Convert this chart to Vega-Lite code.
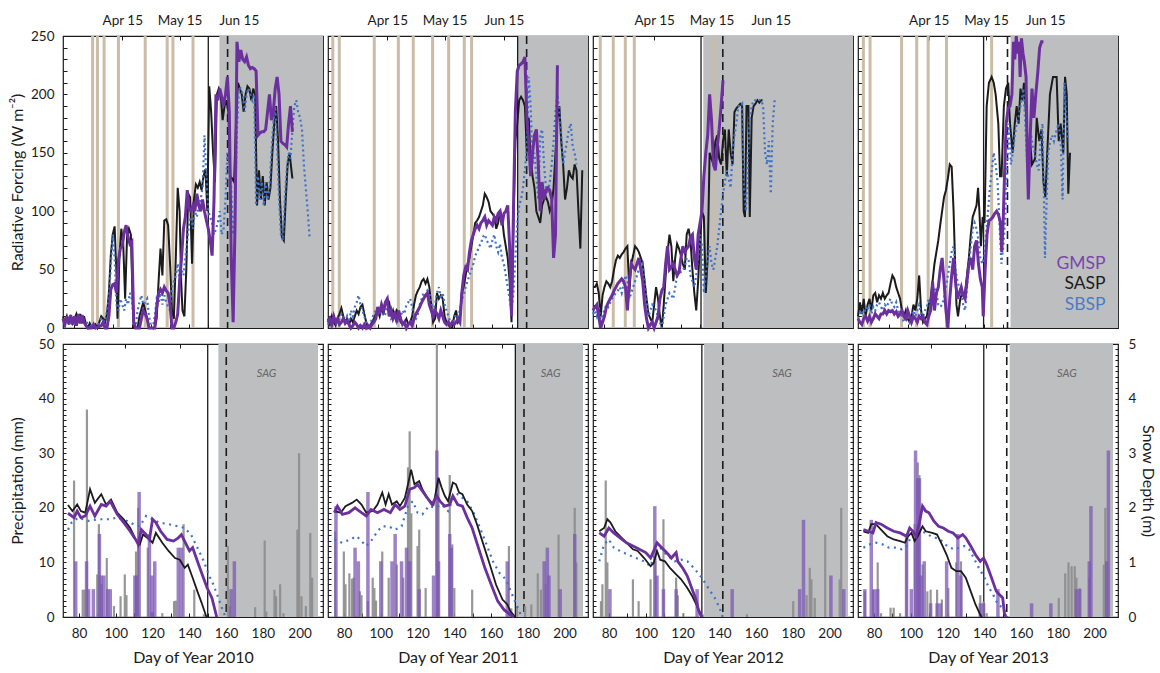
{
"$schema":"https://vega.github.io/schema/vega-lite/v6.json",
"background":"white",
"padding":{"left":8,"top":12,"right":4,"bottom":4},
"config":{
 "font":"Lato",
 "view":{"stroke":"#1b1b1b","strokeWidth":1.2},
 "axis":{"domain":false,"grid":false,"tickColor":"#1b1b1b","tickWidth":1,"tickSize":-4,"labelPadding":13,"labelFont":"Lato","labelFontSize":13.5,"labelColor":"#1b1b1b","titleFont":"Lato","titleFontSize":16,"titleFontWeight":"normal","titleColor":"#1b1b1b","minExtent":0,"labels":false,"labelOverlap":false,"labelFlush":false,"labelBound":false}
},
"datasets":{
 "sag2010":[{"sag_early":150,"sag_late":160.1,"sag_start":155.8,"sag_end":210}],
 "sag2011":[{"sag_early":173.2,"sag_late":177.9,"sag_start":173.4,"sag_end":210}],
 "sag2012":[{"sag_early":130.5,"sag_late":141.9,"sag_start":131.7,"sag_end":210}],
 "sag2013":[{"sag_early":139.7,"sag_late":152.2,"sag_start":153.8,"sag_end":210}],
 "dust2010":[{"doy":89.5},{"doy":92},{"doy":95.5},{"doy":103},{"doy":117},{"doy":128.5},{"doy":131.5},{"doy":142}],
 "dust2011":[{"doy":76.5},{"doy":79.9},{"doy":98.2},{"doy":110.8},{"doy":118.6},{"doy":128.7},{"doy":137.1},{"doy":145.3},{"doy":149.1}],
 "dust2012":[{"doy":77.8},{"doy":84.6},{"doy":90.9},{"doy":95.6},{"doy":137.4}],
 "dust2013":[{"doy":76.8},{"doy":80.3},{"doy":96.8},{"doy":104.7},{"doy":110.7},{"doy":120.3},{"doy":143.9}],
 "rf2010GMSP":[{"doy":74,"rf":8},{"doy":75,"rf":3},{"doy":76,"rf":10},{"doy":77,"rf":4},{"doy":78,"rf":11},{"doy":79,"rf":3},{"doy":80,"rf":10},{"doy":81,"rf":2},{"doy":82,"rf":12},{"doy":83,"rf":4},{"doy":84,"rf":11},{"doy":85,"rf":5},{"doy":86,"rf":2},{"doy":87,"rf":0},{"doy":89,"rf":0},{"doy":90,"rf":3},{"doy":91,"rf":0},{"doy":94,"rf":2},{"doy":95,"rf":5},{"doy":96,"rf":0},{"doy":97,"rf":0},{"doy":98,"rf":10},{"doy":99,"rf":33},{"doy":100,"rf":37},{"doy":101,"rf":38},{"doy":102,"rf":30},{"doy":103,"rf":58},{"doy":104,"rf":68},{"doy":105,"rf":70},{"doy":106,"rf":82},{"doy":107,"rf":88},{"doy":108,"rf":78},{"doy":109,"rf":72},{"doy":110,"rf":74},{"doy":111,"rf":5},{"doy":112,"rf":0},{"doy":114,"rf":0},{"doy":115,"rf":8},{"doy":116,"rf":15},{"doy":117,"rf":12},{"doy":118,"rf":8},{"doy":119,"rf":0},{"doy":122,"rf":0},{"doy":123,"rf":18},{"doy":124,"rf":30},{"doy":125,"rf":33},{"doy":126,"rf":30},{"doy":127,"rf":35},{"doy":128,"rf":32},{"doy":129,"rf":30},{"doy":130,"rf":20},{"doy":131,"rf":0},{"doy":132,"rf":0},{"doy":133,"rf":5},{"doy":134,"rf":12},{"doy":135,"rf":40},{"doy":136,"rf":60},{"doy":137,"rf":85},{"doy":138,"rf":95},{"doy":139,"rf":118},{"doy":140,"rf":102},{"doy":141,"rf":100},{"doy":142,"rf":105},{"doy":143,"rf":100},{"doy":144,"rf":115},{"doy":145,"rf":105},{"doy":146,"rf":100},{"doy":147,"rf":110},{"doy":148,"rf":100},{"doy":149,"rf":92},{"doy":150,"rf":85},{"doy":151,"rf":75},{"doy":152,"rf":62},{"doy":153,"rf":110},{"doy":154,"rf":200},{"doy":155,"rf":195},{"doy":156,"rf":205},{"doy":157,"rf":198},{"doy":158,"rf":190},{"doy":159,"rf":200},{"doy":160,"rf":215},{"doy":161,"rf":185},{"doy":162,"rf":60},{"doy":163,"rf":5},{"doy":164,"rf":90},{"doy":165,"rf":245},{"doy":166,"rf":228},{"doy":167,"rf":238},{"doy":168,"rf":230},{"doy":169,"rf":228},{"doy":170,"rf":232},{"doy":171,"rf":225},{"doy":172,"rf":222},{"doy":173,"rf":223},{"doy":174,"rf":222},{"doy":175,"rf":220},{"doy":176,"rf":165},{"doy":177,"rf":167},{"doy":178,"rf":168},{"doy":179,"rf":168},{"doy":180,"rf":170},{"doy":181,"rf":185},{"doy":182,"rf":200},{"doy":183,"rf":178},{"doy":184,"rf":185},{"doy":185,"rf":205},{"doy":186,"rf":215},{"doy":187,"rf":200},{"doy":188,"rf":160},{"doy":189,"rf":158},{"doy":190,"rf":157},{"doy":191,"rf":155},{"doy":192,"rf":175},{"doy":193,"rf":190},{"doy":194,"rf":168}],
 "rf2010SASP":[{"doy":74,"rf":10},{"doy":75,"rf":5},{"doy":76,"rf":10},{"doy":77,"rf":3},{"doy":78,"rf":9},{"doy":79,"rf":4},{"doy":80,"rf":8},{"doy":81,"rf":12},{"doy":82,"rf":5},{"doy":83,"rf":12},{"doy":84,"rf":4},{"doy":85,"rf":10},{"doy":86,"rf":3},{"doy":87,"rf":0},{"doy":88,"rf":4},{"doy":89,"rf":0},{"doy":90,"rf":0},{"doy":91,"rf":3},{"doy":92,"rf":0},{"doy":93,"rf":5},{"doy":94,"rf":10},{"doy":95,"rf":8},{"doy":96,"rf":5},{"doy":97,"rf":12},{"doy":98,"rf":30},{"doy":99,"rf":62},{"doy":100,"rf":80},{"doy":101,"rf":87},{"doy":102,"rf":45},{"doy":102.5,"rf":8},{"doy":103.5,"rf":60},{"doy":104.5,"rf":85},{"doy":105.5,"rf":72},{"doy":106.5,"rf":25},{"doy":107.5,"rf":78},{"doy":108.5,"rf":85},{"doy":109.5,"rf":80},{"doy":110.5,"rf":20},{"doy":111,"rf":0},{"doy":113,"rf":0},{"doy":114,"rf":10},{"doy":115,"rf":16},{"doy":116,"rf":22},{"doy":117,"rf":15},{"doy":118,"rf":8},{"doy":119,"rf":0},{"doy":122,"rf":0},{"doy":123,"rf":8},{"doy":124,"rf":40},{"doy":125,"rf":68},{"doy":126,"rf":45},{"doy":127,"rf":92},{"doy":128,"rf":93},{"doy":129,"rf":88},{"doy":130,"rf":55},{"doy":131,"rf":15},{"doy":132,"rf":8},{"doy":133,"rf":60},{"doy":134,"rf":120},{"doy":135,"rf":100},{"doy":135.8,"rf":40},{"doy":136.5,"rf":15},{"doy":137.5,"rf":10},{"doy":138.5,"rf":50},{"doy":139.5,"rf":115},{"doy":140.5,"rf":112},{"doy":141.5,"rf":55},{"doy":142.5,"rf":110},{"doy":143.5,"rf":123},{"doy":144.5,"rf":120},{"doy":145.5,"rf":125},{"doy":146.5,"rf":118},{"doy":147.5,"rf":130},{"doy":148.5,"rf":136},{"doy":149.5,"rf":100},{"doy":150.5,"rf":207},{"doy":151.5,"rf":185},{"doy":152.5,"rf":150},{"doy":153.5,"rf":125},{"doy":154.5,"rf":200},{"doy":155.5,"rf":205},{"doy":156.5,"rf":200},{"doy":157.5,"rf":178},{"doy":158.5,"rf":190},{"doy":159.5,"rf":195},{"doy":160.5,"rf":185},{"doy":161.5,"rf":130},{"doy":162.5,"rf":128},{"doy":163.5,"rf":125},{"doy":164.5,"rf":175},{"doy":165.5,"rf":210},{"doy":166.5,"rf":205},{"doy":167.5,"rf":200},{"doy":168.5,"rf":185},{"doy":169.5,"rf":200},{"doy":170.5,"rf":207},{"doy":171.5,"rf":205},{"doy":172.5,"rf":195},{"doy":173.5,"rf":205},{"doy":174.5,"rf":200},{"doy":175.5,"rf":105},{"doy":176.5,"rf":135},{"doy":177.5,"rf":110},{"doy":178.5,"rf":130},{"doy":179.5,"rf":105},{"doy":180.5,"rf":125},{"doy":181.5,"rf":110},{"doy":182.5,"rf":120},{"doy":183.5,"rf":150},{"doy":184.5,"rf":175},{"doy":185.5,"rf":190},{"doy":186.5,"rf":160},{"doy":187.5,"rf":110},{"doy":188.5,"rf":78},{"doy":189.5,"rf":75},{"doy":190.5,"rf":110},{"doy":191.5,"rf":140},{"doy":192.5,"rf":150},{"doy":193.5,"rf":135},{"doy":194,"rf":128}],
 "rf2010SBSP":[{"doy":74,"rf":5},{"doy":76,"rf":8},{"doy":78,"rf":3},{"doy":80,"rf":8},{"doy":82,"rf":5},{"doy":84,"rf":8},{"doy":86,"rf":5},{"doy":88,"rf":3},{"doy":90,"rf":0},{"doy":92,"rf":2},{"doy":94,"rf":8},{"doy":96,"rf":5},{"doy":98,"rf":25},{"doy":100,"rf":80},{"doy":101,"rf":60},{"doy":102,"rf":20},{"doy":103,"rf":15},{"doy":104,"rf":25},{"doy":105,"rf":20},{"doy":106,"rf":15},{"doy":107,"rf":25},{"doy":108,"rf":20},{"doy":109,"rf":30},{"doy":110,"rf":25},{"doy":111,"rf":5},{"doy":112,"rf":0},{"doy":113,"rf":15},{"doy":114,"rf":22},{"doy":115,"rf":28},{"doy":116,"rf":20},{"doy":117,"rf":22},{"doy":118,"rf":25},{"doy":119,"rf":10},{"doy":120,"rf":2},{"doy":121,"rf":0},{"doy":122,"rf":10},{"doy":123,"rf":25},{"doy":124,"rf":22},{"doy":125,"rf":30},{"doy":126,"rf":20},{"doy":127,"rf":28},{"doy":128,"rf":22},{"doy":129,"rf":18},{"doy":130,"rf":15},{"doy":131,"rf":35},{"doy":132,"rf":40},{"doy":133,"rf":45},{"doy":134,"rf":55},{"doy":135,"rf":40},{"doy":136,"rf":50},{"doy":137,"rf":45},{"doy":138,"rf":60},{"doy":139,"rf":75},{"doy":140,"rf":90},{"doy":141,"rf":95},{"doy":142,"rf":85},{"doy":143,"rf":100},{"doy":144,"rf":95},{"doy":145,"rf":105},{"doy":146,"rf":110},{"doy":147,"rf":120},{"doy":148,"rf":165},{"doy":149,"rf":130},{"doy":150,"rf":100},{"doy":151,"rf":95},{"doy":152,"rf":90},{"doy":153,"rf":80},{"doy":154,"rf":85},{"doy":155,"rf":90},{"doy":156,"rf":100},{"doy":157,"rf":80},{"doy":158,"rf":85},{"doy":159,"rf":110},{"doy":160,"rf":150},{"doy":161,"rf":140},{"doy":162,"rf":120},{"doy":163,"rf":80},{"doy":164,"rf":100},{"doy":165,"rf":170},{"doy":166,"rf":205},{"doy":167,"rf":205},{"doy":168,"rf":200},{"doy":169,"rf":185},{"doy":170,"rf":200},{"doy":171,"rf":205},{"doy":172,"rf":200},{"doy":173,"rf":195},{"doy":174,"rf":200},{"doy":175,"rf":105},{"doy":176,"rf":130},{"doy":177,"rf":110},{"doy":178,"rf":125},{"doy":179,"rf":105},{"doy":180,"rf":125},{"doy":181,"rf":110},{"doy":182,"rf":120},{"doy":183,"rf":150},{"doy":184,"rf":175},{"doy":185,"rf":190},{"doy":186,"rf":155},{"doy":187,"rf":110},{"doy":188,"rf":80},{"doy":189,"rf":75},{"doy":190,"rf":110},{"doy":191,"rf":135},{"doy":192,"rf":150},{"doy":193,"rf":145},{"doy":194,"rf":170},{"doy":195,"rf":190},{"doy":196,"rf":195},{"doy":197,"rf":185},{"doy":198,"rf":180},{"doy":199,"rf":170},{"doy":200,"rf":140},{"doy":201,"rf":120},{"doy":202,"rf":100},{"doy":203,"rf":77}],
 "rf2011GMSP":[{"doy":74,"rf":5},{"doy":75,"rf":8},{"doy":76,"rf":3},{"doy":77,"rf":10},{"doy":78,"rf":5},{"doy":79,"rf":8},{"doy":80,"rf":3},{"doy":81,"rf":5},{"doy":82,"rf":8},{"doy":83,"rf":4},{"doy":84,"rf":6},{"doy":85,"rf":3},{"doy":86,"rf":0},{"doy":87,"rf":2},{"doy":88,"rf":5},{"doy":89,"rf":3},{"doy":90,"rf":0},{"doy":91,"rf":2},{"doy":92,"rf":0},{"doy":93,"rf":3},{"doy":94,"rf":0},{"doy":95,"rf":2},{"doy":96,"rf":0},{"doy":97,"rf":3},{"doy":98,"rf":5},{"doy":99,"rf":8},{"doy":100,"rf":18},{"doy":101,"rf":12},{"doy":102,"rf":20},{"doy":103,"rf":15},{"doy":104,"rf":22},{"doy":105,"rf":25},{"doy":106,"rf":10},{"doy":107,"rf":15},{"doy":108,"rf":8},{"doy":109,"rf":12},{"doy":110,"rf":5},{"doy":111,"rf":15},{"doy":112,"rf":8},{"doy":113,"rf":3},{"doy":114,"rf":5},{"doy":115,"rf":0},{"doy":116,"rf":3},{"doy":117,"rf":5},{"doy":118,"rf":2},{"doy":119,"rf":8},{"doy":120,"rf":12},{"doy":121,"rf":15},{"doy":122,"rf":18},{"doy":123,"rf":22},{"doy":124,"rf":25},{"doy":125,"rf":28},{"doy":126,"rf":30},{"doy":127,"rf":20},{"doy":128,"rf":15},{"doy":129,"rf":10},{"doy":130,"rf":15},{"doy":131,"rf":12},{"doy":132,"rf":8},{"doy":133,"rf":15},{"doy":134,"rf":10},{"doy":135,"rf":5},{"doy":136,"rf":3},{"doy":137,"rf":5},{"doy":138,"rf":2},{"doy":139,"rf":5},{"doy":140,"rf":3},{"doy":141,"rf":5},{"doy":142,"rf":8},{"doy":143,"rf":5},{"doy":144,"rf":30},{"doy":145,"rf":45},{"doy":146,"rf":52},{"doy":147,"rf":50},{"doy":148,"rf":65},{"doy":149,"rf":75},{"doy":150,"rf":80},{"doy":151,"rf":85},{"doy":152,"rf":88},{"doy":153,"rf":85},{"doy":154,"rf":90},{"doy":155,"rf":92},{"doy":156,"rf":95},{"doy":157,"rf":88},{"doy":158,"rf":92},{"doy":159,"rf":90},{"doy":160,"rf":88},{"doy":161,"rf":95},{"doy":162,"rf":92},{"doy":163,"rf":98},{"doy":164,"rf":100},{"doy":165,"rf":88},{"doy":166,"rf":98},{"doy":167,"rf":100},{"doy":168,"rf":105},{"doy":169,"rf":70},{"doy":170,"rf":10},{"doy":171,"rf":100},{"doy":172,"rf":185},{"doy":173,"rf":220},{"doy":174,"rf":225},{"doy":175,"rf":226},{"doy":176,"rf":228},{"doy":177,"rf":232},{"doy":178,"rf":180},{"doy":179,"rf":160},{"doy":180,"rf":130},{"doy":181,"rf":150},{"doy":182,"rf":165},{"doy":183,"rf":170},{"doy":184,"rf":140},{"doy":185,"rf":100},{"doy":186,"rf":125},{"doy":187,"rf":110},{"doy":188,"rf":118},{"doy":189,"rf":120},{"doy":190,"rf":118},{"doy":191,"rf":110},{"doy":192,"rf":60},{"doy":193,"rf":80},{"doy":194,"rf":225}],
 "rf2011SASP":[{"doy":74,"rf":8},{"doy":75,"rf":3},{"doy":76,"rf":10},{"doy":77,"rf":5},{"doy":78,"rf":2},{"doy":79,"rf":8},{"doy":80,"rf":12},{"doy":81,"rf":17},{"doy":82,"rf":10},{"doy":83,"rf":5},{"doy":84,"rf":8},{"doy":85,"rf":3},{"doy":86,"rf":8},{"doy":87,"rf":5},{"doy":88,"rf":10},{"doy":89,"rf":15},{"doy":90,"rf":12},{"doy":91,"rf":18},{"doy":92,"rf":20},{"doy":93,"rf":12},{"doy":94,"rf":5},{"doy":95,"rf":0},{"doy":96,"rf":2},{"doy":97,"rf":5},{"doy":98,"rf":8},{"doy":99,"rf":12},{"doy":100,"rf":15},{"doy":101,"rf":10},{"doy":102,"rf":18},{"doy":103,"rf":12},{"doy":104,"rf":20},{"doy":105,"rf":25},{"doy":106,"rf":22},{"doy":107,"rf":10},{"doy":108,"rf":15},{"doy":109,"rf":8},{"doy":110,"rf":15},{"doy":111,"rf":12},{"doy":112,"rf":5},{"doy":113,"rf":3},{"doy":114,"rf":5},{"doy":115,"rf":8},{"doy":116,"rf":3},{"doy":117,"rf":5},{"doy":118,"rf":10},{"doy":119,"rf":20},{"doy":120,"rf":28},{"doy":121,"rf":32},{"doy":122,"rf":35},{"doy":123,"rf":40},{"doy":124,"rf":42},{"doy":125,"rf":38},{"doy":126,"rf":42},{"doy":127,"rf":35},{"doy":128,"rf":20},{"doy":129,"rf":5},{"doy":130,"rf":8},{"doy":131,"rf":30},{"doy":132,"rf":25},{"doy":133,"rf":28},{"doy":134,"rf":25},{"doy":135,"rf":10},{"doy":136,"rf":5},{"doy":137,"rf":3},{"doy":138,"rf":0},{"doy":139,"rf":0},{"doy":140,"rf":10},{"doy":141,"rf":15},{"doy":142,"rf":5},{"doy":143,"rf":8},{"doy":144,"rf":30},{"doy":145,"rf":35},{"doy":146,"rf":45},{"doy":147,"rf":55},{"doy":148,"rf":60},{"doy":149,"rf":70},{"doy":150,"rf":80},{"doy":151,"rf":90},{"doy":152,"rf":92},{"doy":153,"rf":95},{"doy":154,"rf":100},{"doy":155,"rf":105},{"doy":156,"rf":115},{"doy":157,"rf":112},{"doy":158,"rf":108},{"doy":159,"rf":100},{"doy":160,"rf":98},{"doy":161,"rf":95},{"doy":162,"rf":85},{"doy":163,"rf":90},{"doy":164,"rf":100},{"doy":165,"rf":95},{"doy":166,"rf":80},{"doy":167,"rf":70},{"doy":168,"rf":60},{"doy":169,"rf":40},{"doy":170,"rf":5},{"doy":171,"rf":90},{"doy":172,"rf":160},{"doy":173,"rf":175},{"doy":174,"rf":195},{"doy":175,"rf":198},{"doy":176,"rf":195},{"doy":177,"rf":190},{"doy":178,"rf":150},{"doy":179,"rf":180},{"doy":180,"rf":145},{"doy":181,"rf":130},{"doy":182,"rf":120},{"doy":183,"rf":100},{"doy":184,"rf":95},{"doy":185,"rf":90},{"doy":186,"rf":105},{"doy":187,"rf":110},{"doy":188,"rf":112},{"doy":189,"rf":108},{"doy":190,"rf":100},{"doy":191,"rf":105},{"doy":192,"rf":120},{"doy":193,"rf":150},{"doy":194,"rf":180},{"doy":195,"rf":190},{"doy":196,"rf":160},{"doy":197,"rf":140},{"doy":198,"rf":110},{"doy":199,"rf":120},{"doy":200,"rf":135},{"doy":201,"rf":130},{"doy":202,"rf":128},{"doy":203,"rf":140},{"doy":204,"rf":135},{"doy":205,"rf":100},{"doy":206,"rf":68},{"doy":207,"rf":135}],
 "rf2011SBSP":[{"doy":74,"rf":3},{"doy":75,"rf":8},{"doy":76,"rf":5},{"doy":77,"rf":10},{"doy":78,"rf":3},{"doy":79,"rf":5},{"doy":80,"rf":8},{"doy":81,"rf":12},{"doy":82,"rf":8},{"doy":83,"rf":5},{"doy":84,"rf":10},{"doy":85,"rf":5},{"doy":86,"rf":15},{"doy":87,"rf":10},{"doy":88,"rf":18},{"doy":89,"rf":22},{"doy":90,"rf":28},{"doy":91,"rf":20},{"doy":92,"rf":15},{"doy":93,"rf":10},{"doy":94,"rf":5},{"doy":95,"rf":2},{"doy":96,"rf":3},{"doy":97,"rf":8},{"doy":98,"rf":12},{"doy":99,"rf":15},{"doy":100,"rf":10},{"doy":101,"rf":18},{"doy":102,"rf":15},{"doy":103,"rf":10},{"doy":104,"rf":12},{"doy":105,"rf":20},{"doy":106,"rf":15},{"doy":107,"rf":8},{"doy":108,"rf":10},{"doy":109,"rf":15},{"doy":110,"rf":5},{"doy":111,"rf":8},{"doy":112,"rf":10},{"doy":113,"rf":15},{"doy":114,"rf":12},{"doy":115,"rf":20},{"doy":116,"rf":22},{"doy":117,"rf":25},{"doy":118,"rf":18},{"doy":119,"rf":10},{"doy":120,"rf":8},{"doy":121,"rf":12},{"doy":122,"rf":20},{"doy":123,"rf":25},{"doy":124,"rf":30},{"doy":125,"rf":28},{"doy":126,"rf":32},{"doy":127,"rf":30},{"doy":128,"rf":22},{"doy":129,"rf":15},{"doy":130,"rf":20},{"doy":131,"rf":30},{"doy":132,"rf":35},{"doy":133,"rf":25},{"doy":134,"rf":30},{"doy":135,"rf":20},{"doy":136,"rf":15},{"doy":137,"rf":10},{"doy":138,"rf":5},{"doy":139,"rf":3},{"doy":140,"rf":8},{"doy":141,"rf":12},{"doy":142,"rf":10},{"doy":143,"rf":15},{"doy":144,"rf":25},{"doy":145,"rf":28},{"doy":146,"rf":35},{"doy":147,"rf":40},{"doy":148,"rf":45},{"doy":149,"rf":50},{"doy":150,"rf":55},{"doy":151,"rf":62},{"doy":152,"rf":65},{"doy":153,"rf":70},{"doy":154,"rf":72},{"doy":155,"rf":78},{"doy":156,"rf":80},{"doy":157,"rf":75},{"doy":158,"rf":72},{"doy":159,"rf":68},{"doy":160,"rf":75},{"doy":161,"rf":80},{"doy":162,"rf":70},{"doy":163,"rf":65},{"doy":164,"rf":72},{"doy":165,"rf":60},{"doy":166,"rf":55},{"doy":167,"rf":45},{"doy":168,"rf":35},{"doy":169,"rf":25},{"doy":170,"rf":15},{"doy":171,"rf":30},{"doy":172,"rf":60},{"doy":173,"rf":90},{"doy":174,"rf":105},{"doy":175,"rf":110},{"doy":176,"rf":120},{"doy":177,"rf":135},{"doy":178,"rf":155},{"doy":179,"rf":215},{"doy":180,"rf":190},{"doy":181,"rf":140},{"doy":182,"rf":150},{"doy":183,"rf":130},{"doy":184,"rf":110},{"doy":185,"rf":165},{"doy":186,"rf":170},{"doy":187,"rf":140},{"doy":188,"rf":120},{"doy":189,"rf":115},{"doy":190,"rf":125},{"doy":191,"rf":140},{"doy":192,"rf":160},{"doy":193,"rf":185},{"doy":194,"rf":200},{"doy":195,"rf":185},{"doy":196,"rf":165},{"doy":197,"rf":140},{"doy":198,"rf":150},{"doy":199,"rf":160},{"doy":200,"rf":170},{"doy":201,"rf":175},{"doy":202,"rf":155},{"doy":203,"rf":150},{"doy":204,"rf":140}],
 "rf2012GMSP":[{"doy":74,"rf":15},{"doy":75,"rf":18},{"doy":76,"rf":20},{"doy":77,"rf":10},{"doy":78,"rf":0},{"doy":79,"rf":5},{"doy":80,"rf":10},{"doy":81,"rf":18},{"doy":82,"rf":22},{"doy":83,"rf":25},{"doy":84,"rf":28},{"doy":85,"rf":32},{"doy":86,"rf":35},{"doy":87,"rf":38},{"doy":88,"rf":40},{"doy":89,"rf":42},{"doy":90,"rf":40},{"doy":91,"rf":35},{"doy":92,"rf":15},{"doy":93,"rf":40},{"doy":94,"rf":55},{"doy":95,"rf":52},{"doy":96,"rf":50},{"doy":97,"rf":55},{"doy":98,"rf":60},{"doy":99,"rf":50},{"doy":100,"rf":40},{"doy":101,"rf":20},{"doy":102,"rf":8},{"doy":103,"rf":0},{"doy":104,"rf":3},{"doy":105,"rf":5},{"doy":106,"rf":0},{"doy":107,"rf":5},{"doy":108,"rf":10},{"doy":109,"rf":25},{"doy":110,"rf":32},{"doy":111,"rf":35},{"doy":112,"rf":55},{"doy":113,"rf":70},{"doy":114,"rf":50},{"doy":115,"rf":52},{"doy":116,"rf":55},{"doy":117,"rf":50},{"doy":118,"rf":45},{"doy":119,"rf":48},{"doy":120,"rf":60},{"doy":121,"rf":70},{"doy":122,"rf":65},{"doy":123,"rf":68},{"doy":124,"rf":70},{"doy":125,"rf":78},{"doy":126,"rf":80},{"doy":127,"rf":60},{"doy":128,"rf":50},{"doy":129,"rf":80},{"doy":130,"rf":90},{"doy":131,"rf":100},{"doy":132,"rf":130},{"doy":133,"rf":150},{"doy":134,"rf":165},{"doy":135,"rf":200},{"doy":136,"rf":178},{"doy":137,"rf":140},{"doy":138,"rf":135},{"doy":139,"rf":155},{"doy":140,"rf":170},{"doy":141,"rf":190},{"doy":142,"rf":212}],
 "rf2012SASP":[{"doy":74,"rf":35},{"doy":75,"rf":35},{"doy":76,"rf":38},{"doy":77,"rf":30},{"doy":78,"rf":10},{"doy":79,"rf":28},{"doy":80,"rf":35},{"doy":81,"rf":40},{"doy":82,"rf":38},{"doy":83,"rf":35},{"doy":84,"rf":40},{"doy":85,"rf":50},{"doy":86,"rf":58},{"doy":87,"rf":62},{"doy":88,"rf":60},{"doy":89,"rf":63},{"doy":90,"rf":65},{"doy":91,"rf":68},{"doy":92,"rf":70},{"doy":93,"rf":30},{"doy":94,"rf":55},{"doy":95,"rf":62},{"doy":96,"rf":70},{"doy":97,"rf":68},{"doy":98,"rf":65},{"doy":99,"rf":60},{"doy":100,"rf":55},{"doy":101,"rf":40},{"doy":102,"rf":25},{"doy":103,"rf":12},{"doy":104,"rf":8},{"doy":105,"rf":5},{"doy":106,"rf":20},{"doy":107,"rf":35},{"doy":108,"rf":25},{"doy":109,"rf":10},{"doy":110,"rf":0},{"doy":111,"rf":20},{"doy":112,"rf":45},{"doy":113,"rf":65},{"doy":114,"rf":80},{"doy":115,"rf":70},{"doy":116,"rf":40},{"doy":117,"rf":60},{"doy":118,"rf":72},{"doy":119,"rf":68},{"doy":120,"rf":62},{"doy":121,"rf":55},{"doy":122,"rf":50},{"doy":123,"rf":80},{"doy":124,"rf":85},{"doy":125,"rf":75},{"doy":126,"rf":50},{"doy":127,"rf":30},{"doy":128,"rf":15},{"doy":129,"rf":40},{"doy":130,"rf":75},{"doy":131,"rf":100},{"doy":132,"rf":95},{"doy":133,"rf":30},{"doy":134,"rf":60},{"doy":135,"rf":150},{"doy":136,"rf":145},{"doy":137,"rf":140},{"doy":138,"rf":160},{"doy":139,"rf":165},{"doy":140,"rf":145},{"doy":141,"rf":140},{"doy":142,"rf":160},{"doy":143,"rf":170},{"doy":144,"rf":130},{"doy":145,"rf":170},{"doy":146,"rf":150},{"doy":147,"rf":140},{"doy":148,"rf":185},{"doy":149,"rf":188},{"doy":150,"rf":190},{"doy":151,"rf":192},{"doy":152,"rf":190},{"doy":152.8,"rf":100},{"doy":153.5,"rf":95},{"doy":154.3,"rf":190},{"doy":155.3,"rf":190},{"doy":156,"rf":95},{"doy":157,"rf":180},{"doy":158,"rf":190},{"doy":159,"rf":192},{"doy":160,"rf":195},{"doy":161,"rf":193},{"doy":162,"rf":195},{"doy":162.7,"rf":195}],
 "rf2012SBSP":[{"doy":74,"rf":12},{"doy":75,"rf":15},{"doy":76,"rf":10},{"doy":77,"rf":18},{"doy":78,"rf":5},{"doy":79,"rf":12},{"doy":80,"rf":15},{"doy":81,"rf":20},{"doy":82,"rf":18},{"doy":83,"rf":22},{"doy":84,"rf":25},{"doy":85,"rf":28},{"doy":86,"rf":30},{"doy":87,"rf":32},{"doy":88,"rf":35},{"doy":89,"rf":30},{"doy":90,"rf":38},{"doy":91,"rf":45},{"doy":92,"rf":40},{"doy":93,"rf":25},{"doy":94,"rf":30},{"doy":95,"rf":35},{"doy":96,"rf":40},{"doy":97,"rf":45},{"doy":98,"rf":50},{"doy":99,"rf":52},{"doy":100,"rf":55},{"doy":101,"rf":40},{"doy":102,"rf":25},{"doy":103,"rf":10},{"doy":104,"rf":15},{"doy":105,"rf":20},{"doy":106,"rf":18},{"doy":107,"rf":15},{"doy":108,"rf":10},{"doy":109,"rf":5},{"doy":110,"rf":0},{"doy":111,"rf":10},{"doy":112,"rf":20},{"doy":113,"rf":25},{"doy":114,"rf":30},{"doy":115,"rf":28},{"doy":116,"rf":25},{"doy":117,"rf":35},{"doy":118,"rf":45},{"doy":119,"rf":50},{"doy":120,"rf":48},{"doy":121,"rf":50},{"doy":122,"rf":52},{"doy":123,"rf":60},{"doy":124,"rf":58},{"doy":125,"rf":45},{"doy":126,"rf":40},{"doy":127,"rf":35},{"doy":128,"rf":45},{"doy":129,"rf":60},{"doy":130,"rf":80},{"doy":131,"rf":70},{"doy":132,"rf":30},{"doy":133,"rf":45},{"doy":134,"rf":60},{"doy":135,"rf":70},{"doy":136,"rf":55},{"doy":137,"rf":50},{"doy":138,"rf":60},{"doy":139,"rf":70},{"doy":140,"rf":85},{"doy":141,"rf":100},{"doy":142,"rf":115},{"doy":143,"rf":125},{"doy":144,"rf":135},{"doy":145,"rf":128},{"doy":146,"rf":120},{"doy":147,"rf":150},{"doy":148,"rf":165},{"doy":149,"rf":175},{"doy":150,"rf":190},{"doy":151,"rf":190},{"doy":152,"rf":192},{"doy":153,"rf":120},{"doy":154,"rf":100},{"doy":155,"rf":140},{"doy":156,"rf":180},{"doy":157,"rf":190},{"doy":158,"rf":195},{"doy":159,"rf":195},{"doy":160,"rf":196},{"doy":161,"rf":195},{"doy":162,"rf":195},{"doy":163,"rf":190},{"doy":164,"rf":150},{"doy":165,"rf":140},{"doy":166,"rf":160},{"doy":167,"rf":115},{"doy":168,"rf":175},{"doy":169,"rf":195},{"doy":170,"rf":196}],
 "rf2013GMSP":[{"doy":74,"rf":8},{"doy":75,"rf":5},{"doy":76,"rf":3},{"doy":77,"rf":8},{"doy":78,"rf":10},{"doy":79,"rf":6},{"doy":80,"rf":10},{"doy":81,"rf":5},{"doy":82,"rf":8},{"doy":83,"rf":12},{"doy":84,"rf":10},{"doy":85,"rf":8},{"doy":86,"rf":12},{"doy":87,"rf":12},{"doy":88,"rf":15},{"doy":89,"rf":12},{"doy":90,"rf":15},{"doy":91,"rf":14},{"doy":92,"rf":15},{"doy":93,"rf":12},{"doy":94,"rf":14},{"doy":95,"rf":10},{"doy":96,"rf":12},{"doy":97,"rf":15},{"doy":98,"rf":10},{"doy":99,"rf":8},{"doy":100,"rf":15},{"doy":101,"rf":10},{"doy":102,"rf":5},{"doy":103,"rf":10},{"doy":104,"rf":8},{"doy":105,"rf":5},{"doy":106,"rf":10},{"doy":107,"rf":8},{"doy":108,"rf":10},{"doy":109,"rf":5},{"doy":110,"rf":3},{"doy":111,"rf":10},{"doy":112,"rf":15},{"doy":113,"rf":40},{"doy":114,"rf":15},{"doy":115,"rf":30},{"doy":116,"rf":35},{"doy":117,"rf":50},{"doy":118,"rf":60},{"doy":119,"rf":40},{"doy":120,"rf":15},{"doy":121,"rf":0},{"doy":122,"rf":25},{"doy":123,"rf":45},{"doy":124,"rf":60},{"doy":125,"rf":40},{"doy":126,"rf":25},{"doy":127,"rf":30},{"doy":128,"rf":35},{"doy":129,"rf":28},{"doy":130,"rf":25},{"doy":131,"rf":40},{"doy":132,"rf":55},{"doy":133,"rf":60},{"doy":134,"rf":50},{"doy":135,"rf":70},{"doy":136,"rf":75},{"doy":137,"rf":55},{"doy":138,"rf":42},{"doy":139,"rf":35},{"doy":139.5,"rf":10},{"doy":140.5,"rf":50},{"doy":141.5,"rf":80},{"doy":142.5,"rf":92},{"doy":143.5,"rf":93},{"doy":144.5,"rf":95},{"doy":145.5,"rf":98},{"doy":146.5,"rf":100},{"doy":147.5,"rf":97},{"doy":148.5,"rf":90},{"doy":149.2,"rf":65},{"doy":150,"rf":95},{"doy":150.8,"rf":140},{"doy":151.5,"rf":175},{"doy":152.5,"rf":188},{"doy":153.5,"rf":190},{"doy":154.5,"rf":200},{"doy":155.3,"rf":245},{"doy":156,"rf":230},{"doy":156.8,"rf":250},{"doy":157.5,"rf":235},{"doy":158.3,"rf":245},{"doy":158.8,"rf":215},{"doy":159.5,"rf":248},{"doy":160.3,"rf":235},{"doy":161,"rf":228},{"doy":161.9,"rf":215},{"doy":162.5,"rf":150},{"doy":163.1,"rf":110},{"doy":164,"rf":160},{"doy":165,"rf":205},{"doy":166,"rf":180},{"doy":167,"rf":200},{"doy":168,"rf":218},{"doy":169,"rf":240},{"doy":170,"rf":245},{"doy":171,"rf":245}],
 "rf2013SASP":[{"doy":74,"rf":10},{"doy":75,"rf":22},{"doy":76,"rf":12},{"doy":77,"rf":25},{"doy":78,"rf":10},{"doy":79,"rf":20},{"doy":80,"rf":25},{"doy":81,"rf":15},{"doy":82,"rf":28},{"doy":83,"rf":30},{"doy":84,"rf":22},{"doy":85,"rf":28},{"doy":86,"rf":25},{"doy":87,"rf":30},{"doy":88,"rf":25},{"doy":89,"rf":28},{"doy":90,"rf":30},{"doy":91,"rf":38},{"doy":92,"rf":45},{"doy":93,"rf":42},{"doy":94,"rf":35},{"doy":95,"rf":30},{"doy":96,"rf":25},{"doy":97,"rf":15},{"doy":98,"rf":10},{"doy":99,"rf":15},{"doy":100,"rf":8},{"doy":101,"rf":5},{"doy":102,"rf":10},{"doy":103,"rf":20},{"doy":104,"rf":15},{"doy":105,"rf":25},{"doy":106,"rf":45},{"doy":107,"rf":15},{"doy":108,"rf":5},{"doy":109,"rf":8},{"doy":110,"rf":10},{"doy":111,"rf":20},{"doy":112,"rf":25},{"doy":113,"rf":40},{"doy":114,"rf":55},{"doy":115,"rf":65},{"doy":116,"rf":75},{"doy":117,"rf":88},{"doy":118,"rf":100},{"doy":119,"rf":112},{"doy":120,"rf":118},{"doy":121,"rf":128},{"doy":122,"rf":140},{"doy":123,"rf":138},{"doy":124,"rf":100},{"doy":124.8,"rf":55},{"doy":125.5,"rf":20},{"doy":126.3,"rf":10},{"doy":127.5,"rf":25},{"doy":128.5,"rf":30},{"doy":130,"rf":30},{"doy":131,"rf":45},{"doy":132,"rf":60},{"doy":133,"rf":80},{"doy":134,"rf":95},{"doy":135,"rf":100},{"doy":136,"rf":105},{"doy":136.8,"rf":120},{"doy":137.5,"rf":100},{"doy":138.3,"rf":70},{"doy":139.2,"rf":95},{"doy":140.2,"rf":90},{"doy":141.3,"rf":190},{"doy":142.5,"rf":210},{"doy":143.9,"rf":215},{"doy":145,"rf":210},{"doy":146,"rf":200},{"doy":147.4,"rf":175},{"doy":148.3,"rf":130},{"doy":149.1,"rf":130},{"doy":150.3,"rf":190},{"doy":151.4,"rf":205},{"doy":152.6,"rf":210},{"doy":153.5,"rf":175},{"doy":154.9,"rf":150},{"doy":156,"rf":175},{"doy":157,"rf":190},{"doy":158,"rf":175},{"doy":159,"rf":205},{"doy":160,"rf":195},{"doy":160.8,"rf":210},{"doy":162.2,"rf":175},{"doy":163,"rf":145},{"doy":164,"rf":160},{"doy":165,"rf":140},{"doy":166.6,"rf":145},{"doy":167.5,"rf":180},{"doy":168.8,"rf":160},{"doy":170,"rf":170},{"doy":171,"rf":125},{"doy":172,"rf":112},{"doy":173,"rf":150},{"doy":174.4,"rf":200},{"doy":176,"rf":215},{"doy":177.9,"rf":215},{"doy":179,"rf":160},{"doy":180,"rf":175},{"doy":181.4,"rf":150},{"doy":182.3,"rf":215},{"doy":183.2,"rf":200},{"doy":184,"rf":115},{"doy":184.9,"rf":150}],
 "rf2013SBSP":[{"doy":74,"rf":8},{"doy":75,"rf":12},{"doy":76,"rf":15},{"doy":77,"rf":10},{"doy":78,"rf":18},{"doy":79,"rf":15},{"doy":80,"rf":20},{"doy":81,"rf":12},{"doy":82,"rf":18},{"doy":83,"rf":15},{"doy":84,"rf":20},{"doy":85,"rf":22},{"doy":86,"rf":18},{"doy":87,"rf":15},{"doy":88,"rf":20},{"doy":89,"rf":18},{"doy":90,"rf":22},{"doy":91,"rf":25},{"doy":92,"rf":20},{"doy":93,"rf":18},{"doy":94,"rf":22},{"doy":95,"rf":15},{"doy":96,"rf":12},{"doy":97,"rf":10},{"doy":98,"rf":5},{"doy":99,"rf":10},{"doy":100,"rf":8},{"doy":101,"rf":5},{"doy":102,"rf":12},{"doy":103,"rf":15},{"doy":104,"rf":10},{"doy":105,"rf":15},{"doy":106,"rf":20},{"doy":107,"rf":12},{"doy":108,"rf":10},{"doy":109,"rf":15},{"doy":110,"rf":18},{"doy":111,"rf":25},{"doy":112,"rf":15},{"doy":113,"rf":20},{"doy":114,"rf":35},{"doy":115,"rf":30},{"doy":116,"rf":20},{"doy":117,"rf":18},{"doy":118,"rf":20},{"doy":119,"rf":25},{"doy":120,"rf":35},{"doy":121,"rf":45},{"doy":122,"rf":55},{"doy":123,"rf":65},{"doy":124,"rf":70},{"doy":125,"rf":50},{"doy":126,"rf":40},{"doy":127,"rf":35},{"doy":128,"rf":30},{"doy":129,"rf":20},{"doy":130,"rf":15},{"doy":131,"rf":35},{"doy":132,"rf":55},{"doy":133,"rf":70},{"doy":134,"rf":85},{"doy":135,"rf":90},{"doy":136,"rf":85},{"doy":137,"rf":75},{"doy":138,"rf":60},{"doy":139,"rf":55},{"doy":140,"rf":60},{"doy":141,"rf":80},{"doy":142,"rf":100},{"doy":143,"rf":120},{"doy":144,"rf":135},{"doy":145,"rf":150},{"doy":146,"rf":140},{"doy":147,"rf":125},{"doy":148,"rf":90},{"doy":149,"rf":55},{"doy":150,"rf":70},{"doy":151,"rf":95},{"doy":152,"rf":140},{"doy":153,"rf":175},{"doy":154,"rf":140},{"doy":155,"rf":150},{"doy":156,"rf":165},{"doy":157,"rf":175},{"doy":158,"rf":180},{"doy":159,"rf":190},{"doy":160,"rf":200},{"doy":160.5,"rf":205},{"doy":161.5,"rf":175},{"doy":162.5,"rf":140},{"doy":163.5,"rf":155},{"doy":164.5,"rf":165},{"doy":165.5,"rf":155},{"doy":166.5,"rf":150},{"doy":167.5,"rf":140},{"doy":168.5,"rf":135},{"doy":169.5,"rf":160},{"doy":170.5,"rf":175},{"doy":171.3,"rf":110},{"doy":171.8,"rf":60},{"doy":172.5,"rf":100},{"doy":173.5,"rf":150},{"doy":174.5,"rf":160},{"doy":175.5,"rf":165},{"doy":176.5,"rf":160},{"doy":177.9,"rf":170},{"doy":179,"rf":175},{"doy":180,"rf":160},{"doy":181,"rf":110},{"doy":182,"rf":210},{"doy":183,"rf":180},{"doy":184,"rf":160}],
 "sd2010SASP":[{"doy":74,"depth":2.05},{"doy":76.4,"depth":1.94},{"doy":79,"depth":2.06},{"doy":81,"depth":1.94},{"doy":83.4,"depth":1.91},{"doy":86,"depth":2.34},{"doy":88.6,"depth":2.09},{"doy":92.1,"depth":2.25},{"doy":94.7,"depth":2.06},{"doy":97.4,"depth":2.15},{"doy":100.8,"depth":1.91},{"doy":104.3,"depth":1.79},{"doy":107.8,"depth":1.63},{"doy":111.3,"depth":1.39},{"doy":113.1,"depth":1.33},{"doy":114.8,"depth":1.51},{"doy":118.3,"depth":1.42},{"doy":120,"depth":1.36},{"doy":121.8,"depth":1.54},{"doy":125.3,"depth":1.36},{"doy":128.7,"depth":1.21},{"doy":132.2,"depth":1.08},{"doy":134.8,"depth":1.05},{"doy":137.5,"depth":0.9},{"doy":139.2,"depth":0.96},{"doy":141.8,"depth":0.72},{"doy":144.4,"depth":0.47},{"doy":147,"depth":0.23},{"doy":149.3,"depth":0}],
 "sd2010GMSP":[{"doy":74,"depth":1.9},{"doy":77.3,"depth":1.82},{"doy":79,"depth":1.94},{"doy":81,"depth":1.82},{"doy":83.4,"depth":1.85},{"doy":86,"depth":2.03},{"doy":88.6,"depth":1.85},{"doy":92.1,"depth":2.06},{"doy":94.7,"depth":2.03},{"doy":97,"depth":2.12},{"doy":100.8,"depth":1.88},{"doy":104.3,"depth":1.73},{"doy":107.8,"depth":1.57},{"doy":111.3,"depth":1.39},{"doy":112.2,"depth":1.33},{"doy":113.9,"depth":1.6},{"doy":116.5,"depth":1.51},{"doy":118.3,"depth":1.42},{"doy":120,"depth":1.79},{"doy":121.8,"depth":1.73},{"doy":124.4,"depth":1.57},{"doy":127.9,"depth":1.42},{"doy":131.4,"depth":1.39},{"doy":134,"depth":1.45},{"doy":135.7,"depth":1.51},{"doy":138.3,"depth":1.33},{"doy":140.1,"depth":1.21},{"doy":141.8,"depth":1.27},{"doy":144.4,"depth":1.02},{"doy":147,"depth":0.78},{"doy":149.7,"depth":0.53},{"doy":152.3,"depth":0.35},{"doy":154.9,"depth":0}],
 "sd2010SBSP":[{"doy":74,"depth":1.6},{"doy":76,"depth":1.73},{"doy":79.5,"depth":1.82},{"doy":85,"depth":1.76},{"doy":90.4,"depth":1.79},{"doy":95.6,"depth":1.79},{"doy":100.8,"depth":1.82},{"doy":106.1,"depth":1.76},{"doy":109.6,"depth":1.7},{"doy":113,"depth":1.66},{"doy":116.5,"depth":1.85},{"doy":120,"depth":1.79},{"doy":123.5,"depth":1.73},{"doy":128.7,"depth":1.7},{"doy":134,"depth":1.66},{"doy":137.5,"depth":1.63},{"doy":140.9,"depth":1.51},{"doy":144.4,"depth":1.27},{"doy":147.9,"depth":1.02},{"doy":150.5,"depth":0.78},{"doy":153.1,"depth":0.59},{"doy":155.8,"depth":0.35},{"doy":158.4,"depth":0.1},{"doy":159.8,"depth":0}],
 "sd2011SASP":[{"doy":74.7,"depth":1.94},{"doy":78.2,"depth":1.91},{"doy":80.8,"depth":2.03},{"doy":84.3,"depth":2.09},{"doy":86.9,"depth":2.15},{"doy":89.5,"depth":2.06},{"doy":92.1,"depth":1.91},{"doy":95.6,"depth":1.94},{"doy":98.2,"depth":2.06},{"doy":100.8,"depth":2.28},{"doy":102.6,"depth":2.06},{"doy":104.3,"depth":2.25},{"doy":106.1,"depth":2.06},{"doy":108.7,"depth":2.12},{"doy":110.4,"depth":2.03},{"doy":113.1,"depth":2.18},{"doy":114.8,"depth":2.43},{"doy":116.5,"depth":2.7},{"doy":118.3,"depth":2.43},{"doy":120.9,"depth":2.49},{"doy":122.6,"depth":2.34},{"doy":125.3,"depth":2.18},{"doy":128.7,"depth":2.06},{"doy":131.4,"depth":2.55},{"doy":133.1,"depth":2.37},{"doy":134.8,"depth":2.22},{"doy":136.6,"depth":2.12},{"doy":139.2,"depth":2.46},{"doy":140.9,"depth":2.43},{"doy":142.6,"depth":2.28},{"doy":144.4,"depth":2.25},{"doy":147,"depth":2.06},{"doy":149.7,"depth":1.94},{"doy":152.3,"depth":1.7},{"doy":155.8,"depth":1.33},{"doy":159.3,"depth":0.96},{"doy":162.7,"depth":0.59},{"doy":166.2,"depth":0.32},{"doy":168.8,"depth":0.23},{"doy":170.6,"depth":0.1},{"doy":173.2,"depth":0}],
 "sd2011GMSP":[{"doy":74.7,"depth":1.91},{"doy":76.4,"depth":2.03},{"doy":79.1,"depth":1.88},{"doy":82.6,"depth":1.91},{"doy":86,"depth":2},{"doy":89.5,"depth":1.91},{"doy":92.1,"depth":1.85},{"doy":94.7,"depth":1.97},{"doy":98.2,"depth":1.91},{"doy":101.7,"depth":1.97},{"doy":105.2,"depth":1.91},{"doy":107.8,"depth":2.06},{"doy":110.4,"depth":1.97},{"doy":113.1,"depth":2.03},{"doy":115.7,"depth":2.34},{"doy":118.3,"depth":2.37},{"doy":120,"depth":2.43},{"doy":122.6,"depth":2.31},{"doy":125.3,"depth":2.18},{"doy":127.9,"depth":2.06},{"doy":130.5,"depth":2.22},{"doy":132.2,"depth":2.12},{"doy":134.8,"depth":2.03},{"doy":137.5,"depth":2.06},{"doy":139.2,"depth":2.22},{"doy":141.8,"depth":2.06},{"doy":144.4,"depth":2.03},{"doy":147,"depth":1.82},{"doy":149.7,"depth":1.63},{"doy":153.1,"depth":1.27},{"doy":156.6,"depth":0.9},{"doy":160.1,"depth":0.59},{"doy":163.6,"depth":0.29},{"doy":167.1,"depth":0.13},{"doy":170.6,"depth":0.04},{"doy":172.3,"depth":0}],
 "sd2011SBSP":[{"doy":74.7,"depth":1.42},{"doy":79.1,"depth":1.36},{"doy":83.4,"depth":1.42},{"doy":86.9,"depth":1.48},{"doy":89.5,"depth":1.39},{"doy":92.1,"depth":1.3},{"doy":94.7,"depth":1.39},{"doy":98.2,"depth":1.57},{"doy":100.8,"depth":1.66},{"doy":104.3,"depth":1.66},{"doy":107.8,"depth":1.6},{"doy":111.3,"depth":1.66},{"doy":114.8,"depth":2.03},{"doy":117.4,"depth":2.12},{"doy":120,"depth":1.91},{"doy":122.6,"depth":1.88},{"doy":126.1,"depth":2.03},{"doy":129.6,"depth":2},{"doy":133.1,"depth":2.06},{"doy":136.6,"depth":1.94},{"doy":139.2,"depth":2.15},{"doy":141.8,"depth":2.25},{"doy":144.4,"depth":2.18},{"doy":147,"depth":2.12},{"doy":150.5,"depth":1.91},{"doy":154,"depth":1.63},{"doy":157.5,"depth":1.33},{"doy":161,"depth":1.02},{"doy":164.5,"depth":0.81},{"doy":168,"depth":0.69},{"doy":171.5,"depth":0.41},{"doy":174.1,"depth":0.2},{"doy":176.7,"depth":0}],
 "sd2012SASP":[{"doy":74.7,"depth":1.57},{"doy":77.3,"depth":1.63},{"doy":79.1,"depth":1.79},{"doy":80.8,"depth":1.73},{"doy":83.4,"depth":1.57},{"doy":86.9,"depth":1.45},{"doy":90.4,"depth":1.33},{"doy":93,"depth":1.24},{"doy":95.6,"depth":1.21},{"doy":99.1,"depth":1.08},{"doy":102.6,"depth":0.93},{"doy":104.3,"depth":0.99},{"doy":106.1,"depth":1.21},{"doy":107.8,"depth":1.05},{"doy":110.4,"depth":1.02},{"doy":113.1,"depth":0.9},{"doy":116.5,"depth":0.78},{"doy":119.2,"depth":0.69},{"doy":122.6,"depth":0.53},{"doy":125.3,"depth":0.38},{"doy":127.9,"depth":0.2},{"doy":129.6,"depth":0.04},{"doy":130.5,"depth":0}],
 "sd2012GMSP":[{"doy":74.7,"depth":1.54},{"doy":77.3,"depth":1.48},{"doy":79.9,"depth":1.63},{"doy":82.6,"depth":1.54},{"doy":86,"depth":1.45},{"doy":89.5,"depth":1.36},{"doy":93,"depth":1.3},{"doy":96.5,"depth":1.24},{"doy":100,"depth":1.18},{"doy":102.6,"depth":1.08},{"doy":104.3,"depth":1.21},{"doy":106.1,"depth":1.36},{"doy":108.7,"depth":1.27},{"doy":111.3,"depth":1.18},{"doy":113.9,"depth":1.08},{"doy":116.5,"depth":1.18},{"doy":117.4,"depth":1.02},{"doy":120,"depth":0.9},{"doy":122.6,"depth":0.75},{"doy":125.3,"depth":0.5},{"doy":127,"depth":0.35},{"doy":128.7,"depth":0.13},{"doy":130.5,"depth":0}],
 "sd2012SBSP":[{"doy":74.7,"depth":1.02},{"doy":77.3,"depth":1.33},{"doy":79.9,"depth":1.42},{"doy":82.6,"depth":1.27},{"doy":86,"depth":1.21},{"doy":90.4,"depth":1.14},{"doy":94.7,"depth":1.08},{"doy":99.1,"depth":1.02},{"doy":102.6,"depth":0.93},{"doy":105.2,"depth":1.21},{"doy":107.8,"depth":1.27},{"doy":111.3,"depth":1.14},{"doy":115.7,"depth":1.02},{"doy":119.2,"depth":1.05},{"doy":122.6,"depth":1.02},{"doy":126.1,"depth":0.9},{"doy":130.5,"depth":0.72},{"doy":134,"depth":0.53},{"doy":137.5,"depth":0.35},{"doy":140.1,"depth":0.17},{"doy":141.8,"depth":0}],
 "sd2013SASP":[{"doy":74.2,"depth":1.57},{"doy":76.8,"depth":1.54},{"doy":78.5,"depth":1.7},{"doy":81,"depth":1.7},{"doy":83.8,"depth":1.6},{"doy":87.2,"depth":1.48},{"doy":90.7,"depth":1.42},{"doy":94.2,"depth":1.39},{"doy":96.8,"depth":1.36},{"doy":98.6,"depth":1.48},{"doy":100.3,"depth":1.54},{"doy":102.1,"depth":1.39},{"doy":103.8,"depth":1.48},{"doy":106.4,"depth":1.66},{"doy":108.1,"depth":1.57},{"doy":111.7,"depth":1.54},{"doy":114.3,"depth":1.51},{"doy":116.9,"depth":1.33},{"doy":119.5,"depth":1.14},{"doy":122.1,"depth":0.9},{"doy":124.7,"depth":0.84},{"doy":127.3,"depth":0.84},{"doy":129.9,"depth":0.72},{"doy":132.6,"depth":0.47},{"doy":135.2,"depth":0.23},{"doy":137.8,"depth":0.04},{"doy":138.6,"depth":0}],
 "sd2013GMSP":[{"doy":74.2,"depth":1.6},{"doy":76.8,"depth":1.57},{"doy":79.4,"depth":1.54},{"doy":81.1,"depth":1.73},{"doy":83.8,"depth":1.7},{"doy":87.2,"depth":1.63},{"doy":90.7,"depth":1.57},{"doy":94.2,"depth":1.54},{"doy":97.7,"depth":1.48},{"doy":99.4,"depth":1.63},{"doy":101.2,"depth":1.57},{"doy":102.9,"depth":1.48},{"doy":104.7,"depth":1.73},{"doy":106.4,"depth":2.03},{"doy":108.1,"depth":1.94},{"doy":109.9,"depth":1.91},{"doy":112.5,"depth":1.76},{"doy":115.1,"depth":1.66},{"doy":117.7,"depth":1.63},{"doy":120.4,"depth":1.57},{"doy":123,"depth":1.54},{"doy":125.6,"depth":1.45},{"doy":128.2,"depth":1.51},{"doy":129.9,"depth":1.45},{"doy":132.6,"depth":1.3},{"doy":135.2,"depth":1.14},{"doy":137.8,"depth":1.02},{"doy":139.6,"depth":1.08},{"doy":141.3,"depth":0.96},{"doy":143.9,"depth":0.72},{"doy":146.5,"depth":0.47},{"doy":148.2,"depth":0.41},{"doy":150,"depth":0.35},{"doy":150.9,"depth":0.07},{"doy":151.8,"depth":0}],
 "sd2013SBSP":[{"doy":74.2,"depth":1.27},{"doy":77.7,"depth":1.33},{"doy":81.1,"depth":1.36},{"doy":84.6,"depth":1.33},{"doy":88.1,"depth":1.27},{"doy":91.6,"depth":1.27},{"doy":95.1,"depth":1.24},{"doy":97.7,"depth":1.3},{"doy":100.3,"depth":1.48},{"doy":102.9,"depth":1.57},{"doy":105.6,"depth":1.57},{"doy":108.2,"depth":1.54},{"doy":110.8,"depth":1.48},{"doy":113.4,"depth":1.45},{"doy":116,"depth":1.42},{"doy":118.6,"depth":1.33},{"doy":121.2,"depth":1.27},{"doy":123.9,"depth":1.24},{"doy":126.5,"depth":1.27},{"doy":129.1,"depth":1.3},{"doy":131.7,"depth":1.24},{"doy":134.3,"depth":1.08},{"doy":137,"depth":0.9},{"doy":139.6,"depth":0.75},{"doy":142.2,"depth":0.56},{"doy":144.8,"depth":0.41},{"doy":147.4,"depth":0.23},{"doy":150,"depth":0.17},{"doy":151.8,"depth":0.07},{"doy":152.6,"depth":0}],
 "pr2010grey":[{"doy":77.3,"mm":25},{"doy":82,"mm":5},{"doy":83,"mm":5},{"doy":84.3,"mm":38},{"doy":89.9,"mm":7.8},{"doy":90.8,"mm":17},{"doy":92.2,"mm":6},{"doy":95.1,"mm":10.8},{"doy":99,"mm":2},{"doy":102.6,"mm":3.8},{"doy":104.9,"mm":7.8},{"doy":105.8,"mm":4},{"doy":111,"mm":12},{"doy":112.2,"mm":20},{"doy":117.4,"mm":12.7},{"doy":119.2,"mm":0.8},{"doy":120,"mm":1},{"doy":125.3,"mm":0.7},{"doy":131.7,"mm":2.9},{"doy":132.6,"mm":3},{"doy":136.9,"mm":17},{"doy":142.7,"mm":5},{"doy":147.9,"mm":0.5},{"doy":161,"mm":13},{"doy":162,"mm":2},{"doy":175.8,"mm":1.8},{"doy":181,"mm":14},{"doy":181.9,"mm":1},{"doy":186.3,"mm":5},{"doy":187.2,"mm":3.8},{"doy":189.4,"mm":6},{"doy":191.2,"mm":0.7},{"doy":198.8,"mm":16},{"doy":199.7,"mm":30},{"doy":201,"mm":3.8},{"doy":203.4,"mm":2},{"doy":205.8,"mm":15.4},{"doy":206.8,"mm":7.2}],
 "pr2010purple":[{"doy":78.2,"mm":10.2},{"doy":84.1,"mm":10.2},{"doy":85.2,"mm":5.1},{"doy":87.8,"mm":5.1},{"doy":91.1,"mm":15.2},{"doy":92.1,"mm":7.6},{"doy":93.5,"mm":7.6},{"doy":95.6,"mm":5.1},{"doy":97,"mm":5.1},{"doy":110.4,"mm":7.6},{"doy":111.3,"mm":7.6},{"doy":112.7,"mm":22.9},{"doy":118.3,"mm":15.2},{"doy":119.7,"mm":7.6},{"doy":121.2,"mm":10.2},{"doy":134,"mm":12.7},{"doy":135.7,"mm":12.7},{"doy":162.7,"mm":5.1},{"doy":164.5,"mm":10.2}],
 "pr2011grey":[{"doy":75.2,"mm":15.7},{"doy":79.9,"mm":12},{"doy":80.8,"mm":6},{"doy":82.9,"mm":8},{"doy":84.3,"mm":7},{"doy":85.2,"mm":7.2},{"doy":88.6,"mm":4.7},{"doy":89.5,"mm":4},{"doy":93,"mm":2.9},{"doy":95.6,"mm":7.2},{"doy":96.5,"mm":5.3},{"doy":97.4,"mm":3},{"doy":100.8,"mm":12},{"doy":104.3,"mm":7.2},{"doy":108.7,"mm":9.6},{"doy":112.2,"mm":7.2},{"doy":114.8,"mm":27.4},{"doy":115.7,"mm":34},{"doy":116.6,"mm":19},{"doy":120,"mm":13},{"doy":120.9,"mm":16},{"doy":124.4,"mm":5.3},{"doy":130.5,"mm":50},{"doy":131.4,"mm":25},{"doy":137.5,"mm":26},{"doy":138.9,"mm":13.3},{"doy":140,"mm":5.3},{"doy":149.7,"mm":5},{"doy":169.7,"mm":13},{"doy":171,"mm":1.6},{"doy":174.1,"mm":2},{"doy":178.5,"mm":2},{"doy":181.9,"mm":2.3},{"doy":185.4,"mm":8},{"doy":187.1,"mm":5},{"doy":189.7,"mm":6},{"doy":196.7,"mm":15.1},{"doy":205.5,"mm":20},{"doy":206.4,"mm":10}],
 "pr2011purple":[{"doy":75.6,"mm":20.3},{"doy":86,"mm":12.7},{"doy":87.8,"mm":10.2},{"doy":93,"mm":22.9},{"doy":100,"mm":10.2},{"doy":106.1,"mm":10.2},{"doy":107.8,"mm":15.2},{"doy":111.3,"mm":10.2},{"doy":114,"mm":12.7},{"doy":115.7,"mm":10.2},{"doy":120.9,"mm":5.1},{"doy":128.7,"mm":7.6},{"doy":130.5,"mm":30.5},{"doy":131.4,"mm":10.2},{"doy":137.5,"mm":15.2},{"doy":138.3,"mm":12.7},{"doy":168.8,"mm":10.2},{"doy":188.9,"mm":10.2},{"doy":190.6,"mm":12.7},{"doy":191.5,"mm":7.6},{"doy":197.6,"mm":5.1},{"doy":205.5,"mm":15.2}],
 "pr2012grey":[{"doy":75.6,"mm":2.9},{"doy":76.4,"mm":6},{"doy":78.2,"mm":25},{"doy":79.1,"mm":10},{"doy":93,"mm":6.9},{"doy":96.1,"mm":2.9},{"doy":102.6,"mm":6.9},{"doy":105.2,"mm":10.2},{"doy":109.6,"mm":17.9},{"doy":116.5,"mm":7.2},{"doy":117.4,"mm":4},{"doy":120.4,"mm":0.7},{"doy":131,"mm":0.5},{"doy":155,"mm":0.5},{"doy":180.2,"mm":2.9},{"doy":187.5,"mm":4},{"doy":189.2,"mm":9},{"doy":190.1,"mm":6.9},{"doy":191.9,"mm":3.5},{"doy":197.6,"mm":15.1},{"doy":205.5,"mm":6.9},{"doy":206.3,"mm":20}],
 "pr2012purple":[{"doy":80.5,"mm":5.1},{"doy":104.9,"mm":20.3},{"doy":106.1,"mm":7.6},{"doy":109.6,"mm":5.1},{"doy":116.5,"mm":5.1},{"doy":127.9,"mm":5.1},{"doy":147,"mm":5.1},{"doy":183.7,"mm":5.1},{"doy":185.8,"mm":17.8},{"doy":200.7,"mm":7.6},{"doy":207.7,"mm":5.1}],
 "pr2013grey":[{"doy":75,"mm":4.7},{"doy":79.4,"mm":5},{"doy":82,"mm":10},{"doy":83.8,"mm":0.7},{"doy":89,"mm":1.7},{"doy":90.7,"mm":1.7},{"doy":94.2,"mm":0.7},{"doy":97.7,"mm":14.5},{"doy":102.1,"mm":17},{"doy":103.8,"mm":28.3},{"doy":104.7,"mm":26},{"doy":106.4,"mm":9.6},{"doy":109,"mm":4.7},{"doy":110.8,"mm":5},{"doy":114.3,"mm":5},{"doy":116.9,"mm":3.2},{"doy":120.4,"mm":5.3},{"doy":124.7,"mm":10},{"doy":127.3,"mm":10.2},{"doy":137.8,"mm":4},{"doy":139.6,"mm":2.9},{"doy":141.3,"mm":0.7},{"doy":180.5,"mm":3.5},{"doy":184,"mm":8},{"doy":185.8,"mm":10},{"doy":187.5,"mm":9.3},{"doy":189.2,"mm":9.3},{"doy":190.1,"mm":7.2},{"doy":191.9,"mm":5.3},{"doy":197.1,"mm":7.2},{"doy":205,"mm":9.6},{"doy":205.8,"mm":20}],
 "pr2013purple":[{"doy":75,"mm":5.1},{"doy":78.5,"mm":17.8},{"doy":80.3,"mm":5.1},{"doy":82,"mm":5.1},{"doy":97.7,"mm":15.2},{"doy":100.3,"mm":5.1},{"doy":102.6,"mm":30.5},{"doy":103.8,"mm":25.4},{"doy":104.7,"mm":25.4},{"doy":105.6,"mm":7.6},{"doy":107.3,"mm":10.2},{"doy":110.8,"mm":2.5},{"doy":114.3,"mm":2.5},{"doy":116,"mm":2.5},{"doy":119.5,"mm":10.2},{"doy":125.6,"mm":15.2},{"doy":127.3,"mm":7.6},{"doy":137.8,"mm":2.5},{"doy":139.6,"mm":2.5},{"doy":147.4,"mm":5.1},{"doy":165.7,"mm":2.5},{"doy":176.2,"mm":2.5},{"doy":190.1,"mm":5.1},{"doy":191.9,"mm":5.1},{"doy":197.1,"mm":10.2},{"doy":198,"mm":20.3},{"doy":206.6,"mm":10.2},{"doy":207.5,"mm":30.5}]
},
"columns":4,
"spacing":{"row":16,"column":5},
"bounds":"flush",
"concat":[
 {"width":260,"height":292,"resolve":{"axis":{"x":"independent","y":"independent"}},"layer":[
  {"data":{"name":"sag2010"},"mark":{"type":"rect","color":"#bdbec0"},"encoding":{"x":{"field":"sag_start","type":"quantitative","scale":{"domain":[74,210],"nice":false,"zero":false},"axis":{"orient":"bottom","values":[80,90,100,110,120,130,140,150,160,170,180,190,200],"title":null}},"x2":{"field":"sag_end"}}},
  {"data":{"name":"dust2010"},"mark":{"type":"rule","color":"#cbbca7","strokeWidth":3},"encoding":{"x":{"field":"doy","type":"quantitative","axis":null}}},
  {"data":{"name":"sag2010"},"mark":{"type":"rule","color":"#1b1b1b","strokeWidth":1.3},"encoding":{"x":{"field":"sag_early","type":"quantitative","axis":null}}},
  {"data":{"name":"sag2010"},"mark":{"type":"rule","color":"#1b1b1b","strokeWidth":1.6,"strokeDash":[8,5]},"encoding":{"x":{"field":"sag_late","type":"quantitative","axis":null}}},
  {"data":{"name":"rf2010SASP"},"mark":{"type":"line","color":"#1b1b1b","strokeWidth":2},"encoding":{"x":{"field":"doy","type":"quantitative","axis":null},"y":{"field":"rf","type":"quantitative","scale":{"domain":[0,250],"nice":false},"axis":null}}},
  {"data":{"name":"rf2010SBSP"},"mark":{"type":"line","color":"#3f72c8","strokeWidth":2.2,"strokeDash":[2,3]},"encoding":{"x":{"field":"doy","type":"quantitative","axis":null},"y":{"field":"rf","type":"quantitative","axis":{"orient":"right","values":[0,10,20,30,40,50,60,70,80,90,100,110,120,130,140,150,160,170,180,190,200,210,220,230,240,250],"title":null}}}},
  {"data":{"name":"rf2010GMSP"},"mark":{"type":"line","color":"#6b2f9e","strokeWidth":3},"encoding":{"x":{"field":"doy","type":"quantitative","axis":{"orient":"top","values":[105,135,166],"labels":true,"labelExpr":"datum.value < 120 ? 'Apr 15' : datum.value < 150 ? 'May 15' : 'Jun 15'","title":null}},"y":{"field":"rf","type":"quantitative","axis":{"orient":"left","values":[0,10,20,30,40,50,60,70,80,90,100,110,120,130,140,150,160,170,180,190,200,210,220,230,240,250],"labels":true,"labelExpr":"datum.value % 50 === 0 ? datum.label : ''","title":"Radiative Forcing (W m⁻²)","minExtent":32,"maxExtent":32,"titlePadding":6}}}}
 ]},
 {"width":260,"height":292,"resolve":{"axis":{"x":"independent","y":"independent"}},"layer":[
  {"data":{"name":"sag2011"},"mark":{"type":"rect","color":"#bdbec0"},"encoding":{"x":{"field":"sag_start","type":"quantitative","scale":{"domain":[74,210],"nice":false,"zero":false},"axis":{"orient":"bottom","values":[80,90,100,110,120,130,140,150,160,170,180,190,200],"title":null}},"x2":{"field":"sag_end"}}},
  {"data":{"name":"dust2011"},"mark":{"type":"rule","color":"#cbbca7","strokeWidth":3},"encoding":{"x":{"field":"doy","type":"quantitative","axis":null}}},
  {"data":{"name":"sag2011"},"mark":{"type":"rule","color":"#1b1b1b","strokeWidth":1.3},"encoding":{"x":{"field":"sag_early","type":"quantitative","axis":null}}},
  {"data":{"name":"sag2011"},"mark":{"type":"rule","color":"#1b1b1b","strokeWidth":1.6,"strokeDash":[8,5]},"encoding":{"x":{"field":"sag_late","type":"quantitative","axis":null}}},
  {"data":{"name":"rf2011SASP"},"mark":{"type":"line","color":"#1b1b1b","strokeWidth":2},"encoding":{"x":{"field":"doy","type":"quantitative","axis":null},"y":{"field":"rf","type":"quantitative","scale":{"domain":[0,250],"nice":false},"axis":null}}},
  {"data":{"name":"rf2011SBSP"},"mark":{"type":"line","color":"#3f72c8","strokeWidth":2.2,"strokeDash":[2,3]},"encoding":{"x":{"field":"doy","type":"quantitative","axis":null},"y":{"field":"rf","type":"quantitative","axis":{"orient":"right","values":[0,10,20,30,40,50,60,70,80,90,100,110,120,130,140,150,160,170,180,190,200,210,220,230,240,250],"title":null}}}},
  {"data":{"name":"rf2011GMSP"},"mark":{"type":"line","color":"#6b2f9e","strokeWidth":3},"encoding":{"x":{"field":"doy","type":"quantitative","axis":{"orient":"top","values":[105,135,166],"labels":true,"labelExpr":"datum.value < 120 ? 'Apr 15' : datum.value < 150 ? 'May 15' : 'Jun 15'","title":null}},"y":{"field":"rf","type":"quantitative","axis":{"orient":"left","values":[0,10,20,30,40,50,60,70,80,90,100,110,120,130,140,150,160,170,180,190,200,210,220,230,240,250],"title":null}}}}
 ]},
 {"width":260,"height":292,"resolve":{"axis":{"x":"independent","y":"independent"}},"layer":[
  {"data":{"name":"sag2012"},"mark":{"type":"rect","color":"#bdbec0"},"encoding":{"x":{"field":"sag_start","type":"quantitative","scale":{"domain":[74,210],"nice":false,"zero":false},"axis":{"orient":"bottom","values":[80,90,100,110,120,130,140,150,160,170,180,190,200],"title":null}},"x2":{"field":"sag_end"}}},
  {"data":{"name":"dust2012"},"mark":{"type":"rule","color":"#cbbca7","strokeWidth":3},"encoding":{"x":{"field":"doy","type":"quantitative","axis":null}}},
  {"data":{"name":"sag2012"},"mark":{"type":"rule","color":"#1b1b1b","strokeWidth":1.3},"encoding":{"x":{"field":"sag_early","type":"quantitative","axis":null}}},
  {"data":{"name":"sag2012"},"mark":{"type":"rule","color":"#1b1b1b","strokeWidth":1.6,"strokeDash":[8,5]},"encoding":{"x":{"field":"sag_late","type":"quantitative","axis":null}}},
  {"data":{"name":"rf2012SASP"},"mark":{"type":"line","color":"#1b1b1b","strokeWidth":2},"encoding":{"x":{"field":"doy","type":"quantitative","axis":null},"y":{"field":"rf","type":"quantitative","scale":{"domain":[0,250],"nice":false},"axis":null}}},
  {"data":{"name":"rf2012SBSP"},"mark":{"type":"line","color":"#3f72c8","strokeWidth":2.2,"strokeDash":[2,3]},"encoding":{"x":{"field":"doy","type":"quantitative","axis":null},"y":{"field":"rf","type":"quantitative","axis":{"orient":"right","values":[0,10,20,30,40,50,60,70,80,90,100,110,120,130,140,150,160,170,180,190,200,210,220,230,240,250],"title":null}}}},
  {"data":{"name":"rf2012GMSP"},"mark":{"type":"line","color":"#6b2f9e","strokeWidth":3},"encoding":{"x":{"field":"doy","type":"quantitative","axis":{"orient":"top","values":[106,136,167],"labels":true,"labelExpr":"datum.value < 120 ? 'Apr 15' : datum.value < 150 ? 'May 15' : 'Jun 15'","title":null}},"y":{"field":"rf","type":"quantitative","axis":{"orient":"left","values":[0,10,20,30,40,50,60,70,80,90,100,110,120,130,140,150,160,170,180,190,200,210,220,230,240,250],"title":null}}}}
 ]},
 {"width":260,"height":292,"resolve":{"axis":{"x":"independent","y":"independent"}},"layer":[
  {"data":{"name":"sag2013"},"mark":{"type":"rect","color":"#bdbec0"},"encoding":{"x":{"field":"sag_start","type":"quantitative","scale":{"domain":[74,210],"nice":false,"zero":false},"axis":{"orient":"bottom","values":[80,90,100,110,120,130,140,150,160,170,180,190,200],"title":null}},"x2":{"field":"sag_end"}}},
  {"data":{"name":"dust2013"},"mark":{"type":"rule","color":"#cbbca7","strokeWidth":3},"encoding":{"x":{"field":"doy","type":"quantitative","axis":null}}},
  {"data":{"name":"sag2013"},"mark":{"type":"rule","color":"#1b1b1b","strokeWidth":1.3},"encoding":{"x":{"field":"sag_early","type":"quantitative","axis":null}}},
  {"data":{"name":"sag2013"},"mark":{"type":"rule","color":"#1b1b1b","strokeWidth":1.6,"strokeDash":[8,5]},"encoding":{"x":{"field":"sag_late","type":"quantitative","axis":null}}},
  {"data":{"name":"rf2013SASP"},"mark":{"type":"line","color":"#1b1b1b","strokeWidth":2},"encoding":{"x":{"field":"doy","type":"quantitative","axis":null},"y":{"field":"rf","type":"quantitative","scale":{"domain":[0,250],"nice":false},"axis":null}}},
  {"data":{"name":"rf2013SBSP"},"mark":{"type":"line","color":"#3f72c8","strokeWidth":2.2,"strokeDash":[2,3]},"encoding":{"x":{"field":"doy","type":"quantitative","axis":null},"y":{"field":"rf","type":"quantitative","axis":{"orient":"right","values":[0,10,20,30,40,50,60,70,80,90,100,110,120,130,140,150,160,170,180,190,200,210,220,230,240,250],"title":null}}}},
  {"data":{"name":"rf2013GMSP"},"mark":{"type":"line","color":"#6b2f9e","strokeWidth":3},"encoding":{"x":{"field":"doy","type":"quantitative","axis":{"orient":"top","values":[111,141,172],"labels":true,"labelExpr":"datum.value < 120 ? 'Apr 15' : datum.value < 150 ? 'May 15' : 'Jun 15'","title":null}},"y":{"field":"rf","type":"quantitative","axis":{"orient":"left","values":[0,10,20,30,40,50,60,70,80,90,100,110,120,130,140,150,160,170,180,190,200,210,220,230,240,250],"title":null}}}},
  {"data":{"name":"sag2013"},"mark":{"type":"text","text":"GMSP","align":"right","baseline":"middle","fontSize":17.5,"color":"#7a45ad"},"encoding":{"x":{"datum":203.5,"type":"quantitative","axis":null},"y":{"datum":55,"type":"quantitative","axis":null}}},
  {"data":{"name":"sag2013"},"mark":{"type":"text","text":"SASP","align":"right","baseline":"middle","fontSize":17.5,"color":"#1b1b1b"},"encoding":{"x":{"datum":203.5,"type":"quantitative","axis":null},"y":{"datum":37.5,"type":"quantitative","axis":null}}},
  {"data":{"name":"sag2013"},"mark":{"type":"text","text":"SBSP","align":"right","baseline":"middle","fontSize":17.5,"color":"#4a7cc8"},"encoding":{"x":{"datum":203.5,"type":"quantitative","axis":null},"y":{"datum":19.5,"type":"quantitative","axis":null}}}
 ]},
 {"width":260,"height":273,"resolve":{"scale":{"y":"independent"},"axis":{"x":"independent","y":"independent"}},"layer":[
  {"data":{"name":"sag2010"},"mark":{"type":"rect","color":"#bdbec0"},"encoding":{"x":{"field":"sag_start","type":"quantitative","scale":{"domain":[74,210],"nice":false,"zero":false},"axis":{"orient":"bottom","values":[80,90,100,110,120,130,140,150,160,170,180,190,200],"labels":true,"labelExpr":"datum.value % 20 === 0 ? datum.label : ''","title":"Day of Year 2010","titlePadding":10}},"x2":{"field":"sag_end"}}},
  {"data":{"name":"sag2010"},"mark":{"type":"rule","color":"#1b1b1b","strokeWidth":1.3},"encoding":{"x":{"field":"sag_early","type":"quantitative","axis":null}}},
  {"data":{"name":"sag2010"},"mark":{"type":"rule","color":"#1b1b1b","strokeWidth":1.6,"strokeDash":[8,5]},"encoding":{"x":{"field":"sag_late","type":"quantitative","axis":null}}},
  {"data":{"name":"pr2010grey"},"mark":{"type":"bar","orient":"vertical","color":"#8c8c8c","opacity":0.9,"width":2.2},"encoding":{"x":{"field":"doy","type":"quantitative","axis":{"orient":"top","values":[105,135,166],"title":null}},"y":{"field":"mm","type":"quantitative","scale":{"domain":[0,50],"nice":false},"axis":{"orient":"left","values":[0,1,2,3,4,5,6,7,8,9,10,11,12,13,14,15,16,17,18,19,20,21,22,23,24,25,26,27,28,29,30,31,32,33,34,35,36,37,38,39,40,41,42,43,44,45,46,47,48,49,50],"tickSize":-3,"labelPadding":12,"labels":true,"labelExpr":"datum.value % 10 === 0 ? datum.label : ''","title":"Precipitation (mm)","minExtent":32,"maxExtent":32,"titlePadding":6}}}},
  {"data":{"name":"pr2010purple"},"mark":{"type":"bar","orient":"vertical","color":"#7c58b4","opacity":0.75,"width":3.5},"encoding":{"x":{"field":"doy","type":"quantitative","axis":null},"y":{"field":"mm","type":"quantitative","scale":{"domain":[0,50],"nice":false},"axis":null}}},
  {"data":{"name":"sag2010"},"mark":{"type":"text","text":"SAG","fontStyle":"italic","fontSize":11,"color":"#666666"},"encoding":{"x":{"datum":182,"type":"quantitative","axis":null},"y":{"datum":44.5,"type":"quantitative","scale":{"domain":[0,50],"nice":false},"axis":null}}},
  {"data":{"name":"sd2010SBSP"},"mark":{"type":"line","color":"#3f72c8","strokeWidth":2.2,"strokeDash":[2,4.5]},"encoding":{"x":{"field":"doy","type":"quantitative","axis":null},"y":{"field":"depth","type":"quantitative","scale":{"domain":[0,5],"nice":false},"axis":{"orient":"right","values":[0,0.1,0.2,0.3,0.4,0.5,0.6,0.7,0.8,0.9,1,1.1,1.2,1.3,1.4,1.5,1.6,1.7,1.8,1.9,2,2.1,2.2,2.3,2.4,2.5,2.6,2.7,2.8,2.9,3,3.1,3.2,3.3,3.4,3.5,3.6,3.7,3.8,3.9,4,4.1,4.2,4.3,4.4,4.5,4.6,4.7,4.8,4.9,5],"tickSize":-3,"title":null}}}},
  {"data":{"name":"sd2010SASP"},"mark":{"type":"line","color":"#1b1b1b","strokeWidth":1.8},"encoding":{"x":{"field":"doy","type":"quantitative","axis":null},"y":{"field":"depth","type":"quantitative","scale":{"domain":[0,5],"nice":false},"axis":null}}},
  {"data":{"name":"sd2010GMSP"},"mark":{"type":"line","color":"#6b2f9e","strokeWidth":2.8},"encoding":{"x":{"field":"doy","type":"quantitative","axis":null},"y":{"field":"depth","type":"quantitative","scale":{"domain":[0,5],"nice":false},"axis":null}}}
 ]},
 {"width":260,"height":273,"resolve":{"scale":{"y":"independent"},"axis":{"x":"independent","y":"independent"}},"layer":[
  {"data":{"name":"sag2011"},"mark":{"type":"rect","color":"#bdbec0"},"encoding":{"x":{"field":"sag_start","type":"quantitative","scale":{"domain":[74,210],"nice":false,"zero":false},"axis":{"orient":"bottom","values":[80,90,100,110,120,130,140,150,160,170,180,190,200],"labels":true,"labelExpr":"datum.value % 20 === 0 ? datum.label : ''","title":"Day of Year 2011","titlePadding":10}},"x2":{"field":"sag_end"}}},
  {"data":{"name":"sag2011"},"mark":{"type":"rule","color":"#1b1b1b","strokeWidth":1.3},"encoding":{"x":{"field":"sag_early","type":"quantitative","axis":null}}},
  {"data":{"name":"sag2011"},"mark":{"type":"rule","color":"#1b1b1b","strokeWidth":1.6,"strokeDash":[8,5]},"encoding":{"x":{"field":"sag_late","type":"quantitative","axis":null}}},
  {"data":{"name":"pr2011grey"},"mark":{"type":"bar","orient":"vertical","color":"#8c8c8c","opacity":0.9,"width":2.2},"encoding":{"x":{"field":"doy","type":"quantitative","axis":{"orient":"top","values":[105,135,166],"title":null}},"y":{"field":"mm","type":"quantitative","scale":{"domain":[0,50],"nice":false},"axis":{"orient":"left","values":[0,1,2,3,4,5,6,7,8,9,10,11,12,13,14,15,16,17,18,19,20,21,22,23,24,25,26,27,28,29,30,31,32,33,34,35,36,37,38,39,40,41,42,43,44,45,46,47,48,49,50],"tickSize":-3,"title":null}}}},
  {"data":{"name":"pr2011purple"},"mark":{"type":"bar","orient":"vertical","color":"#7c58b4","opacity":0.75,"width":3.5},"encoding":{"x":{"field":"doy","type":"quantitative","axis":null},"y":{"field":"mm","type":"quantitative","scale":{"domain":[0,50],"nice":false},"axis":null}}},
  {"data":{"name":"sag2011"},"mark":{"type":"text","text":"SAG","fontStyle":"italic","fontSize":11,"color":"#666666"},"encoding":{"x":{"datum":192.4,"type":"quantitative","axis":null},"y":{"datum":44.5,"type":"quantitative","scale":{"domain":[0,50],"nice":false},"axis":null}}},
  {"data":{"name":"sd2011SBSP"},"mark":{"type":"line","color":"#3f72c8","strokeWidth":2.2,"strokeDash":[2,4.5]},"encoding":{"x":{"field":"doy","type":"quantitative","axis":null},"y":{"field":"depth","type":"quantitative","scale":{"domain":[0,5],"nice":false},"axis":{"orient":"right","values":[0,0.1,0.2,0.3,0.4,0.5,0.6,0.7,0.8,0.9,1,1.1,1.2,1.3,1.4,1.5,1.6,1.7,1.8,1.9,2,2.1,2.2,2.3,2.4,2.5,2.6,2.7,2.8,2.9,3,3.1,3.2,3.3,3.4,3.5,3.6,3.7,3.8,3.9,4,4.1,4.2,4.3,4.4,4.5,4.6,4.7,4.8,4.9,5],"tickSize":-3,"title":null}}}},
  {"data":{"name":"sd2011SASP"},"mark":{"type":"line","color":"#1b1b1b","strokeWidth":1.8},"encoding":{"x":{"field":"doy","type":"quantitative","axis":null},"y":{"field":"depth","type":"quantitative","scale":{"domain":[0,5],"nice":false},"axis":null}}},
  {"data":{"name":"sd2011GMSP"},"mark":{"type":"line","color":"#6b2f9e","strokeWidth":2.8},"encoding":{"x":{"field":"doy","type":"quantitative","axis":null},"y":{"field":"depth","type":"quantitative","scale":{"domain":[0,5],"nice":false},"axis":null}}}
 ]},
 {"width":260,"height":273,"resolve":{"scale":{"y":"independent"},"axis":{"x":"independent","y":"independent"}},"layer":[
  {"data":{"name":"sag2012"},"mark":{"type":"rect","color":"#bdbec0"},"encoding":{"x":{"field":"sag_start","type":"quantitative","scale":{"domain":[74,210],"nice":false,"zero":false},"axis":{"orient":"bottom","values":[80,90,100,110,120,130,140,150,160,170,180,190,200],"labels":true,"labelExpr":"datum.value % 20 === 0 ? datum.label : ''","title":"Day of Year 2012","titlePadding":10}},"x2":{"field":"sag_end"}}},
  {"data":{"name":"sag2012"},"mark":{"type":"rule","color":"#1b1b1b","strokeWidth":1.3},"encoding":{"x":{"field":"sag_early","type":"quantitative","axis":null}}},
  {"data":{"name":"sag2012"},"mark":{"type":"rule","color":"#1b1b1b","strokeWidth":1.6,"strokeDash":[8,5]},"encoding":{"x":{"field":"sag_late","type":"quantitative","axis":null}}},
  {"data":{"name":"pr2012grey"},"mark":{"type":"bar","orient":"vertical","color":"#8c8c8c","opacity":0.9,"width":2.2},"encoding":{"x":{"field":"doy","type":"quantitative","axis":{"orient":"top","values":[106,136,167],"title":null}},"y":{"field":"mm","type":"quantitative","scale":{"domain":[0,50],"nice":false},"axis":{"orient":"left","values":[0,1,2,3,4,5,6,7,8,9,10,11,12,13,14,15,16,17,18,19,20,21,22,23,24,25,26,27,28,29,30,31,32,33,34,35,36,37,38,39,40,41,42,43,44,45,46,47,48,49,50],"tickSize":-3,"title":null}}}},
  {"data":{"name":"pr2012purple"},"mark":{"type":"bar","orient":"vertical","color":"#7c58b4","opacity":0.75,"width":3.5},"encoding":{"x":{"field":"doy","type":"quantitative","axis":null},"y":{"field":"mm","type":"quantitative","scale":{"domain":[0,50],"nice":false},"axis":null}}},
  {"data":{"name":"sag2012"},"mark":{"type":"text","text":"SAG","fontStyle":"italic","fontSize":11,"color":"#666666"},"encoding":{"x":{"datum":174.1,"type":"quantitative","axis":null},"y":{"datum":44.5,"type":"quantitative","scale":{"domain":[0,50],"nice":false},"axis":null}}},
  {"data":{"name":"sd2012SBSP"},"mark":{"type":"line","color":"#3f72c8","strokeWidth":2.2,"strokeDash":[2,4.5]},"encoding":{"x":{"field":"doy","type":"quantitative","axis":null},"y":{"field":"depth","type":"quantitative","scale":{"domain":[0,5],"nice":false},"axis":{"orient":"right","values":[0,0.1,0.2,0.3,0.4,0.5,0.6,0.7,0.8,0.9,1,1.1,1.2,1.3,1.4,1.5,1.6,1.7,1.8,1.9,2,2.1,2.2,2.3,2.4,2.5,2.6,2.7,2.8,2.9,3,3.1,3.2,3.3,3.4,3.5,3.6,3.7,3.8,3.9,4,4.1,4.2,4.3,4.4,4.5,4.6,4.7,4.8,4.9,5],"tickSize":-3,"title":null}}}},
  {"data":{"name":"sd2012SASP"},"mark":{"type":"line","color":"#1b1b1b","strokeWidth":1.8},"encoding":{"x":{"field":"doy","type":"quantitative","axis":null},"y":{"field":"depth","type":"quantitative","scale":{"domain":[0,5],"nice":false},"axis":null}}},
  {"data":{"name":"sd2012GMSP"},"mark":{"type":"line","color":"#6b2f9e","strokeWidth":2.8},"encoding":{"x":{"field":"doy","type":"quantitative","axis":null},"y":{"field":"depth","type":"quantitative","scale":{"domain":[0,5],"nice":false},"axis":null}}}
 ]},
 {"width":260,"height":273,"resolve":{"scale":{"y":"independent"},"axis":{"x":"independent","y":"independent"}},"layer":[
  {"data":{"name":"sag2013"},"mark":{"type":"rect","color":"#bdbec0"},"encoding":{"x":{"field":"sag_start","type":"quantitative","scale":{"domain":[74,210],"nice":false,"zero":false},"axis":{"orient":"bottom","values":[80,90,100,110,120,130,140,150,160,170,180,190,200],"labels":true,"labelExpr":"datum.value % 20 === 0 ? datum.label : ''","title":"Day of Year 2013","titlePadding":10}},"x2":{"field":"sag_end"}}},
  {"data":{"name":"sag2013"},"mark":{"type":"rule","color":"#1b1b1b","strokeWidth":1.3},"encoding":{"x":{"field":"sag_early","type":"quantitative","axis":null}}},
  {"data":{"name":"sag2013"},"mark":{"type":"rule","color":"#1b1b1b","strokeWidth":1.6,"strokeDash":[8,5]},"encoding":{"x":{"field":"sag_late","type":"quantitative","axis":null}}},
  {"data":{"name":"pr2013grey"},"mark":{"type":"bar","orient":"vertical","color":"#8c8c8c","opacity":0.9,"width":2.2},"encoding":{"x":{"field":"doy","type":"quantitative","axis":{"orient":"top","values":[111,141,172],"title":null}},"y":{"field":"mm","type":"quantitative","scale":{"domain":[0,50],"nice":false},"axis":{"orient":"left","values":[0,1,2,3,4,5,6,7,8,9,10,11,12,13,14,15,16,17,18,19,20,21,22,23,24,25,26,27,28,29,30,31,32,33,34,35,36,37,38,39,40,41,42,43,44,45,46,47,48,49,50],"tickSize":-3,"title":null}}}},
  {"data":{"name":"pr2013purple"},"mark":{"type":"bar","orient":"vertical","color":"#7c58b4","opacity":0.75,"width":3.5},"encoding":{"x":{"field":"doy","type":"quantitative","axis":null},"y":{"field":"mm","type":"quantitative","scale":{"domain":[0,50],"nice":false},"axis":null}}},
  {"data":{"name":"sag2013"},"mark":{"type":"text","text":"SAG","fontStyle":"italic","fontSize":11,"color":"#666666"},"encoding":{"x":{"datum":184.9,"type":"quantitative","axis":null},"y":{"datum":44.5,"type":"quantitative","scale":{"domain":[0,50],"nice":false},"axis":null}}},
  {"data":{"name":"sd2013SBSP"},"mark":{"type":"line","color":"#3f72c8","strokeWidth":2.2,"strokeDash":[2,4.5]},"encoding":{"x":{"field":"doy","type":"quantitative","axis":null},"y":{"field":"depth","type":"quantitative","scale":{"domain":[0,5],"nice":false},"axis":{"orient":"right","values":[0,0.1,0.2,0.3,0.4,0.5,0.6,0.7,0.8,0.9,1,1.1,1.2,1.3,1.4,1.5,1.6,1.7,1.8,1.9,2,2.1,2.2,2.3,2.4,2.5,2.6,2.7,2.8,2.9,3,3.1,3.2,3.3,3.4,3.5,3.6,3.7,3.8,3.9,4,4.1,4.2,4.3,4.4,4.5,4.6,4.7,4.8,4.9,5],"tickSize":-3,"labelPadding":13,"labels":true,"labelExpr":"datum.value % 1 === 0 ? format(datum.value, '.0f') : ''","title":"Snow Depth (m)","titlePadding":3,"minExtent":18,"maxExtent":18}}}},
  {"data":{"name":"sd2013SASP"},"mark":{"type":"line","color":"#1b1b1b","strokeWidth":1.8},"encoding":{"x":{"field":"doy","type":"quantitative","axis":null},"y":{"field":"depth","type":"quantitative","scale":{"domain":[0,5],"nice":false},"axis":null}}},
  {"data":{"name":"sd2013GMSP"},"mark":{"type":"line","color":"#6b2f9e","strokeWidth":2.8},"encoding":{"x":{"field":"doy","type":"quantitative","axis":null},"y":{"field":"depth","type":"quantitative","scale":{"domain":[0,5],"nice":false},"axis":null}}}
 ]}
]
}
